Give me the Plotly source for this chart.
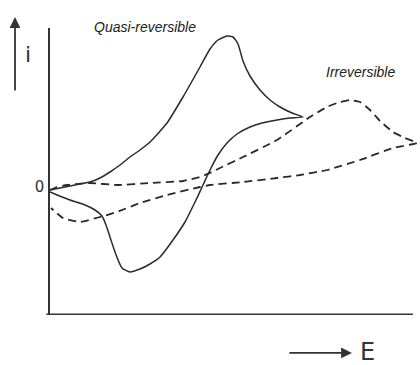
import plotly.graph_objects as go

# Quasi-reversible (solid) cyclic voltammogram: potential E and current i (arbitrary units)
quasi_E = [0.00, 0.10, 0.25, 0.40, 0.50, 0.60, 0.70, 0.80, 0.90, 1.00, 1.17, 1.33, 1.50, 1.60, 1.68, 1.77, 1.83,
           1.88, 1.93, 2.00, 2.10, 2.20, 2.30, 2.42, 2.53,
           2.40, 2.27, 2.12, 2.00, 1.87, 1.77, 1.68, 1.60, 1.53, 1.46, 1.35, 1.23, 1.10,
           1.00, 0.90, 0.80, 0.72, 0.65, 0.60, 0.56, 0.52, 0.45, 0.35, 0.20, 0.07, 0.00]
quasi_i = [-0.03, -0.01, 0.02, 0.05, 0.09, 0.15, 0.22, 0.30, 0.37, 0.45, 0.64, 0.90, 1.20, 1.38, 1.47, 1.51, 1.50,
           1.43, 1.26, 1.11, 0.97, 0.87, 0.80, 0.74, 0.70,
           0.69, 0.67, 0.64, 0.60, 0.53, 0.44, 0.32, 0.17, 0.02, -0.13, -0.35, -0.53, -0.70,
           -0.77, -0.82, -0.85, -0.81, -0.65, -0.50, -0.38, -0.29, -0.23, -0.18, -0.13, -0.08, -0.05]

# Irreversible (dashed) cyclic voltammogram
irr_E = [0.00, 0.07, 0.17, 0.40, 0.67, 1.00, 1.33, 1.53, 1.70, 1.93, 2.27, 2.60, 2.77, 2.90,
         3.00, 3.10, 3.20, 3.30, 3.43, 3.55, 3.67,
         3.43, 3.10, 2.77, 2.50, 2.27, 1.93, 1.60, 1.50, 1.17, 0.90, 0.67, 0.50, 0.30, 0.13, 0.01]
irr_i = [-0.03, 0.00, 0.02, 0.04, 0.02, 0.04, 0.06, 0.11, 0.19, 0.30, 0.47, 0.70, 0.80, 0.85,
         0.87, 0.85, 0.77, 0.66, 0.55, 0.49, 0.44,
         0.39, 0.27, 0.17, 0.12, 0.09, 0.05, 0.02, 0.00, -0.08, -0.16, -0.25, -0.30, -0.35, -0.31, -0.21]

y_tick_vals = [0]
y_tick_text = ["0"]

ink = "#2a2a2a"

fig = go.Figure()
fig.add_trace(go.Scatter(x=quasi_E, y=quasi_i, mode="lines",
                         line=dict(color=ink, width=1.5, shape="spline", smoothing=0.5),
                         hoverinfo="skip", showlegend=False))
fig.add_trace(go.Scatter(x=irr_E, y=irr_i, mode="lines",
                         line=dict(color=ink, width=1.8, dash="8px,5px", shape="spline", smoothing=0.4),
                         hoverinfo="skip", showlegend=False))

fig.update_layout(
    width=420, height=365,
    margin=dict(l=50, r=0, t=28, b=50),
    paper_bgcolor="white", plot_bgcolor="white",
    xaxis=dict(range=[0, 3.70], showgrid=False, zeroline=False, showticklabels=False,
               ticks="", showline=False, fixedrange=True),
    yaxis=dict(range=[-1.28, 1.59], showgrid=False, zeroline=False,
               tickvals=y_tick_vals, ticktext=y_tick_text, ticks="",
               tickfont=dict(family="DejaVu Sans", size=15, color="#333"),
               ticklabelstandoff=1,
               showline=True, linecolor="#333", linewidth=1.5, fixedrange=True),
    shapes=[dict(type="line", xref="paper", yref="paper", x0=-0.01, x1=0.981, y0=0.003, y1=0.003,
                 line=dict(color="#333", width=1.5))],
    annotations=[
        dict(text="<i>Quasi-reversible</i>", xref="paper", yref="paper", x=0.257, y=1.005,
             showarrow=False, font=dict(family="Liberation Sans", size=14, color="#222"),
             xanchor="center", yanchor="middle"),
        dict(text="<i>Irreversible</i>", xref="paper", yref="paper", x=0.838, y=0.847,
             showarrow=False, font=dict(family="Liberation Sans", size=14, color="#222"),
             xanchor="center", yanchor="middle"),
        dict(text="i", xref="paper", yref="paper", x=-0.059, y=0.906,
             showarrow=False, font=dict(family="DejaVu Sans", size=22, color="#333"),
             xanchor="center", yanchor="middle"),
        dict(text="", xref="paper", yref="paper", x=-0.0946, y=1.038, ax=0, ay=75,
             showarrow=True, arrowhead=2, arrowsize=1.2, arrowwidth=1.8, arrowcolor="#333"),
        dict(text="", xref="paper", yref="paper", x=0.816, y=-0.132, ax=-64, ay=0,
             showarrow=True, arrowhead=2, arrowsize=1.2, arrowwidth=1.8, arrowcolor="#333"),
        dict(text="E", xref="paper", yref="paper", x=0.859, y=-0.129,
             showarrow=False, font=dict(family="DejaVu Sans", size=24, color="#333"),
             xanchor="center", yanchor="middle"),
    ],
)

fig.write_html("out.html", config={"displayModeBar": False},
               post_script="document.body.style.margin='0px';")
